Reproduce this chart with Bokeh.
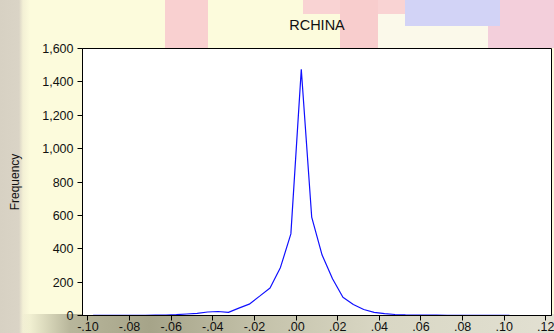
from bokeh.plotting import figure
from bokeh.models import FixedTicker, Range1d
from bokeh.embed import file_html
from bokeh.resources import INLINE

# Frequency polygon of RCHINA returns (bin midpoints, bin width .005)
bin_mid = [-0.0975, -0.0925, -0.0875, -0.0825, -0.0775, -0.0725, -0.0675,
           -0.0625, -0.0575, -0.0525, -0.0475, -0.0425, -0.0375, -0.0325,
           -0.0275, -0.0225, -0.0175, -0.0125, -0.0075, -0.0025, 0.0025,
           0.0075, 0.0125, 0.0175, 0.0225, 0.0275, 0.0325, 0.0375, 0.0425,
           0.0475, 0.0525, 0.0575, 0.0625, 0.0675, 0.0725, 0.0775, 0.0825,
           0.0875, 0.0925, 0.0975, 0.1025]
frequency = [1, 1, 1, 1, 1, 1, 2,
             3, 5, 9, 13, 21, 24, 19,
             44, 68, 116, 165, 288, 489, 1475,
             590, 362, 220, 109, 66, 36, 19, 11,
             6, 4, 3, 2, 2, 1, 1, 1,
             1, 1, 1, 1]

x_tick_values = [-0.10, -0.08, -0.06, -0.04, -0.02, 0.00,
                 0.02, 0.04, 0.06, 0.08, 0.10, 0.12]
x_tick_labels = ["-.10", "-.08", "-.06", "-.04", "-.02", ".00",
                 ".02", ".04", ".06", ".08", ".10", ".12"]
y_tick_values = [0, 200, 400, 600, 800, 1000, 1200, 1400, 1600]
y_tick_labels = ["0", "200", "400", "600", "800", "1,000", "1,200", "1,400", "1,600"]

FONT = "Liberation Sans"

p = figure(width=554, height=333, output_backend="svg", toolbar_location=None,
           title="RCHINA",
           x_range=Range1d(-0.1026, 0.1227), y_range=Range1d(0, 1600),
           min_border_left=82, min_border_right=3, min_border_top=48,
           min_border_bottom=0)

# soft decorative backdrop behind the chart
backdrop = ", ".join([
    "linear-gradient(#d2d3f6,#d2d3f6) 405px 0/95px 26px no-repeat",
    "linear-gradient(#fbf9ea,#fbf9ea) 378px 14px/110px 34px no-repeat",
    "linear-gradient(#f3cfdb,#f3cfdb) 488px 0/66px 48px no-repeat",
    "linear-gradient(#f8cdcd,#f8cdcd) 340px 0/38px 48px no-repeat",
    "linear-gradient(#f9d3d3,#f9d3d3) 303px 0/102px 14px no-repeat",
    "linear-gradient(#f9d0d0,#f9d0d0) 165px 0/43px 48px no-repeat",
    "linear-gradient(to right, rgba(0,0,0,0) 22px, #b8b69b 70px, #a6a489 150px, "
    "#c4c2aa 260px, #d9d7c4 380px, #e2e0d2 554px) 0 314px/554px 19px no-repeat",
    "linear-gradient(to right, #d7d1c3 0px, #dad4c6 19px, #f3f0d5 23px, "
    "rgba(252,251,220,0) 30px) 0 0/554px 333px no-repeat",
    "#fcfbdc",
])
p.styles = {"background": backdrop}
p.border_fill_color = None
p.background_fill_color = "white"
p.outline_line_color = "black"
p.outline_line_width = 1
p.grid.visible = False

p.line(bin_mid, frequency, line_color="#1010ff", line_width=1.2)

# title: top-aligned inside its slot so it sits high above the frame
p.title.align = "center"
p.title.vertical_align = "top"
p.title.text_font = FONT
p.title.text_font_size = "14.5px"
p.title.text_font_style = "normal"
p.title.text_color = "#111111"
p.title.standoff = 28

# axes
p.xaxis.ticker = FixedTicker(ticks=x_tick_values)
p.xaxis.major_label_overrides = dict(zip(x_tick_values, x_tick_labels))
p.yaxis.ticker = FixedTicker(ticks=y_tick_values)
p.yaxis.major_label_overrides = dict(zip(y_tick_values, y_tick_labels))
p.yaxis.axis_label = "Frequency"

for ax in (p.xaxis[0], p.yaxis[0]):
    ax.axis_line_color = "black"
    ax.axis_line_width = 1
    ax.major_tick_line_color = "black"
    ax.major_tick_in = 0
    ax.major_tick_out = 5
    ax.minor_tick_line_color = None
    ax.major_label_text_font = FONT
    ax.major_label_text_font_size = "12.5px"
    ax.major_label_text_color = "#111111"
    ax.axis_label_text_font = FONT
    ax.axis_label_text_font_size = "12px"
    ax.axis_label_text_font_style = "normal"
    ax.axis_label_text_color = "#111111"

p.xaxis.major_label_standoff = 1
p.yaxis.major_label_standoff = 4
p.yaxis.axis_label_standoff = 17

open("out.html", "w").write(file_html(p, INLINE))
